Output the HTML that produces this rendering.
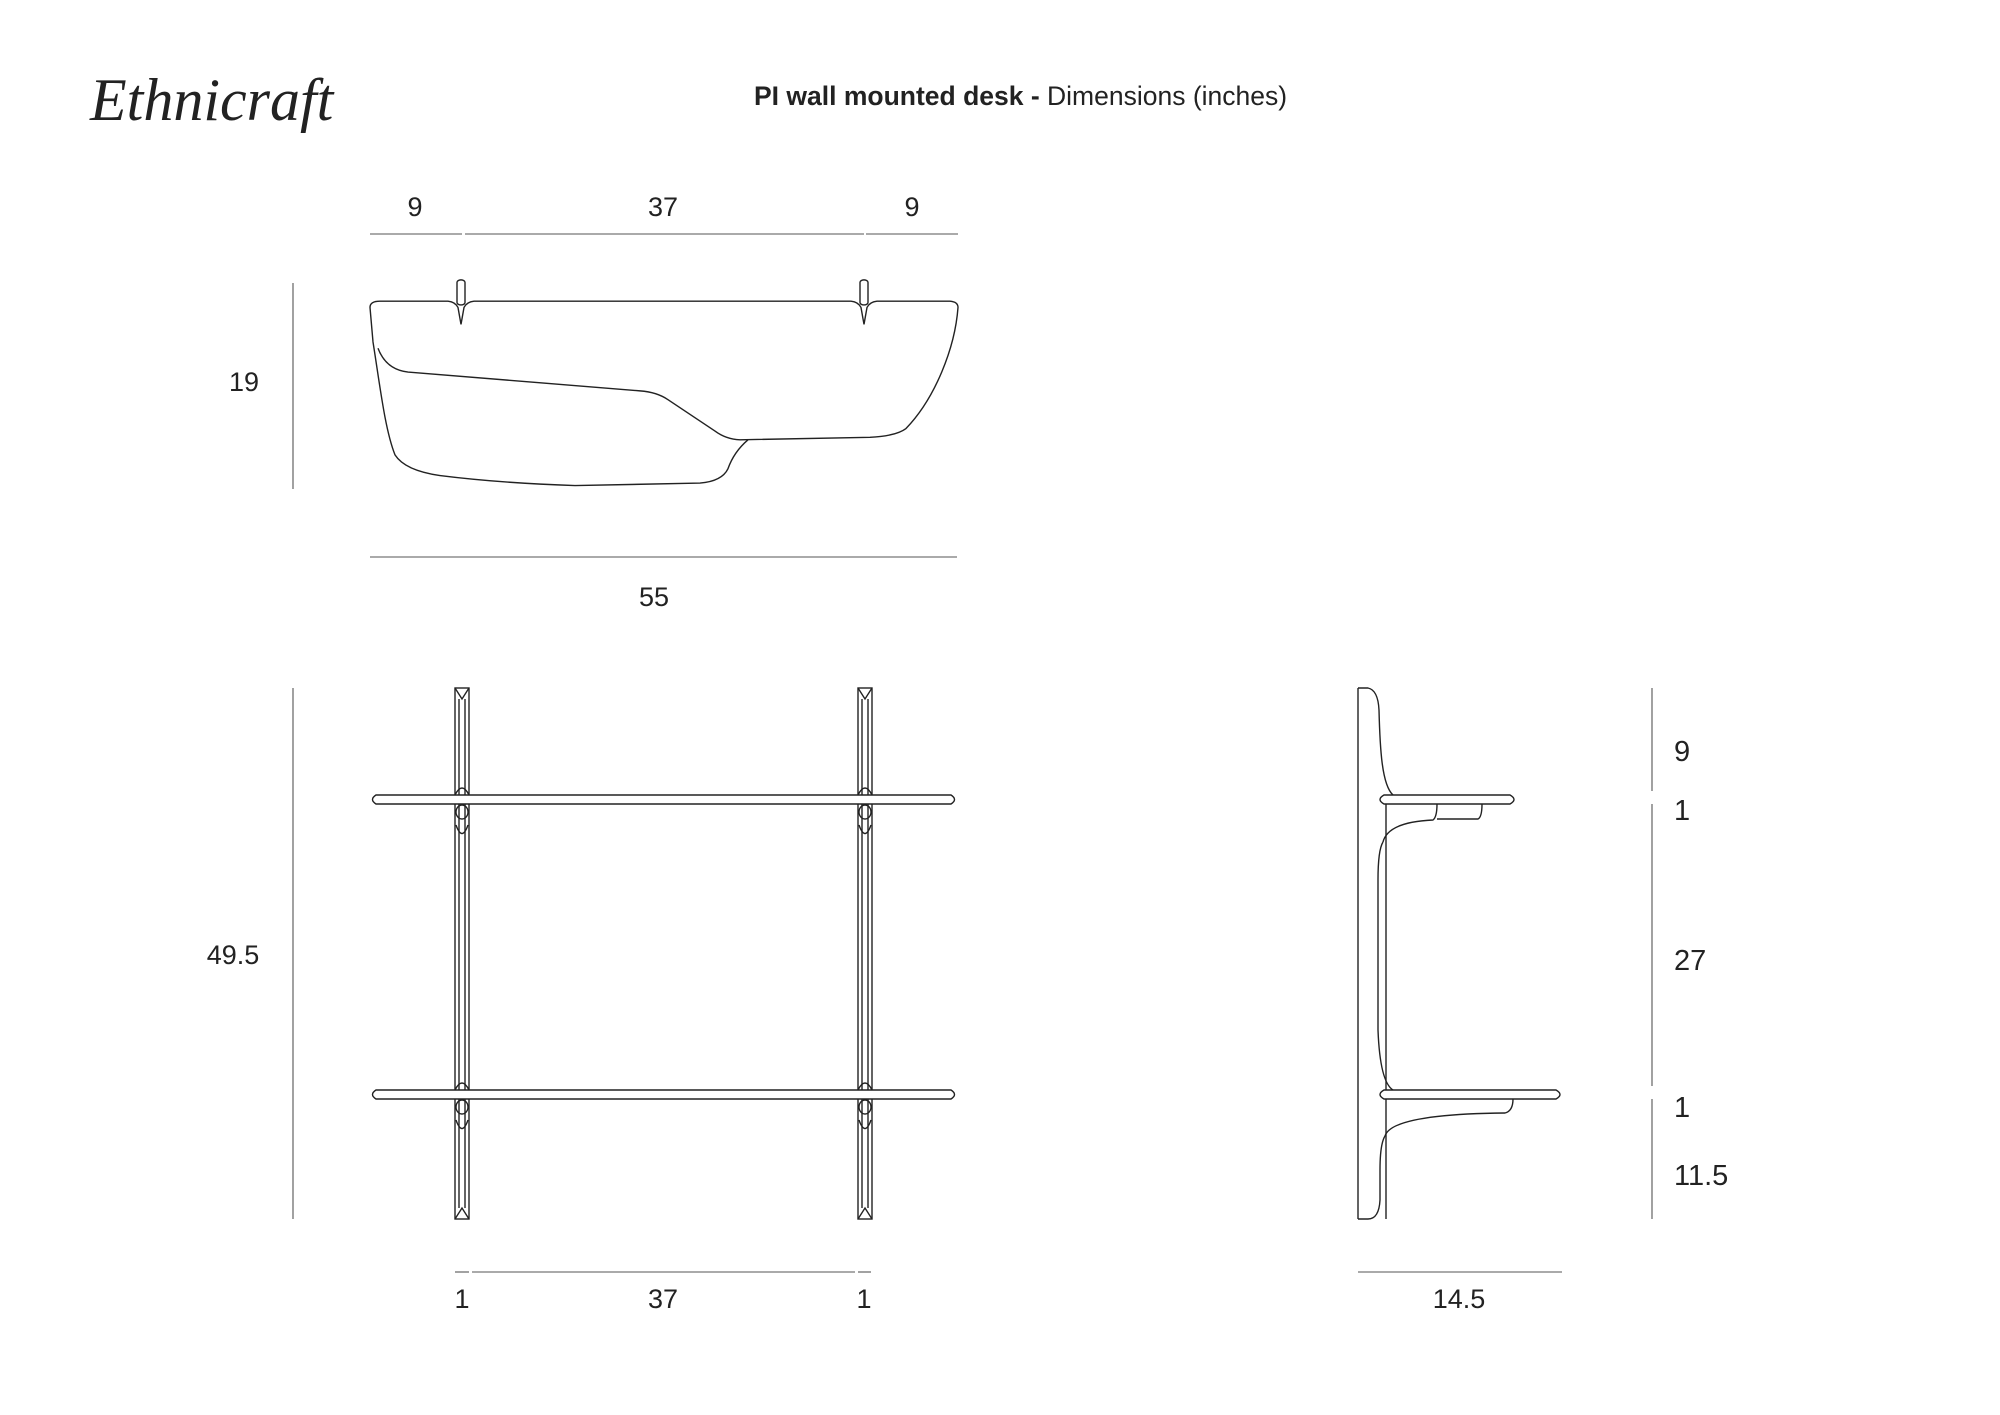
<!DOCTYPE html>
<html><head><meta charset="utf-8"><style>
html,body{margin:0;padding:0;background:#fff}
svg{display:block}
text{font-family:"Liberation Sans",sans-serif;fill:#222}
.n{vector-effect:non-scaling-stroke}
</style></head><body>
<svg width="2000" height="1415" viewBox="0 0 2000 1415" xmlns="http://www.w3.org/2000/svg">
<g fill="none" stroke="#222" stroke-width="1.4">
<!-- top view -->
<g transform="translate(0,-3) scale(1,0.6272)">
<path class="n" d="M370,495 Q370,485 380,485 L448,485 Q455,486 458,495 L461,522 L464,495 Q467,486 474,485 L851,485 Q858,486 861,495 L864,522 L867,495 Q870,486 877,485 L950,485 Q958,486 958,495 C955,560 935,640 906,688 Q896,700 870,702 L740,706"/>
<path class="n" d="M740,706 Q726,705 715,692 L668,642 Q657,630 640,628 L408,598 Q386,594 378,560"/>
<path class="n" d="M370,495 L373,550 C380,620 385,690 395,730 Q405,755 440,763 Q500,775 575,779 L700,775 Q722,772 728,752 Q734,725 748,706"/>
<rect class="n" x="457" y="451" width="8" height="40" rx="4"/>
<rect class="n" x="860" y="451" width="8" height="40" rx="4"/>
</g>
<g stroke="#555" stroke-width="1.1">
<line x1="370" y1="234" x2="462" y2="234"/><line x1="465" y1="234" x2="864" y2="234"/><line x1="866" y1="234" x2="958" y2="234"/>
<line x1="293" y1="283" x2="293" y2="489"/>
<line x1="370" y1="557" x2="957" y2="557"/>
<line x1="293" y1="688" x2="293" y2="1219"/>
<line x1="455" y1="1272" x2="469" y2="1272"/><line x1="472" y1="1272" x2="855" y2="1272"/><line x1="858" y1="1272" x2="871" y2="1272"/>
<line x1="1652" y1="688" x2="1652" y2="791"/><line x1="1652" y1="804" x2="1652" y2="1086"/><line x1="1652" y1="1099" x2="1652" y2="1219"/>
<line x1="1358" y1="1272" x2="1562" y2="1272"/>
</g>
<rect x="455" y="688" width="14" height="531"/>
<rect x="858" y="688" width="14" height="531"/>
<line x1="459" y1="699" x2="459" y2="1208"/><line x1="465" y1="699" x2="465" y2="1208"/>
<line x1="862" y1="699" x2="862" y2="1208"/><line x1="868" y1="699" x2="868" y2="1208"/>
<path d="M455,688 L462,699 L469,688 M455,1219 L462,1208 L469,1219 M858,688 L865,699 L872,688 M858,1219 L865,1208 L872,1219"/>
<path d="M376,795 L951,795 Q958,799.5 951,804 L376,804 Q369,799.5 376,795 Z" fill="#fff"/>
<path d="M376,1090 L951,1090 Q958,1094.5 951,1099 L376,1099 Q369,1094.5 376,1090 Z" fill="#fff"/>
<ellipse cx="462" cy="812" rx="6" ry="7"/><ellipse cx="865" cy="812" rx="6" ry="7"/>
<ellipse cx="462" cy="1107" rx="6" ry="7"/><ellipse cx="865" cy="1107" rx="6" ry="7"/>
<path d="M455,795 Q462,781 469,795 M858,795 Q865,781 872,795 M455,1090 Q462,1076 469,1090 M858,1090 Q865,1076 872,1090"/>
<path d="M456,825 Q462,842 468,825 M859,825 Q865,842 871,825 M456,1120 Q462,1137 468,1120 M859,1120 Q865,1137 871,1120"/>
<path d="M1358,688 L1368,688 Q1378,690 1379,710 C1380,750 1382,785 1393,795"/>
<line x1="1358" y1="688" x2="1358" y2="1219"/>
<path d="M1384,795 L1510,795 Q1518,799.5 1510,804 L1384,804 Q1376,799.5 1384,795 Z"/>
<path d="M1384,1090 L1556,1090 Q1564,1094.5 1556,1099 L1384,1099 Q1376,1094.5 1384,1090 Z"/>
<line x1="1386" y1="804" x2="1386" y2="1090"/>
<line x1="1386" y1="1099" x2="1386" y2="1219"/>
<path d="M1383,842 Q1388,822 1433,820 Q1437,817 1437,804"/>
<path d="M1437,819 L1478,819 Q1482,817 1482,804"/>
<path d="M1383,842 Q1378,850 1378,880 L1378,1030 Q1380,1082 1393,1090"/>
<path d="M1385,1136 Q1392,1114 1505,1113 Q1513,1111 1513,1099"/>
<path d="M1385,1136 Q1380,1144 1380,1170 L1380,1200 Q1379,1219 1368,1219 L1358,1219"/>
</g>
<text x="90" y="120" style="font-family:'Liberation Serif',serif;font-style:italic" font-size="60" fill="#222">Ethnicraft</text>
<text x="754" y="105" font-size="26.5"><tspan font-weight="bold">PI wall mounted desk -</tspan> Dimensions (inches)</text>
<g font-size="27" text-anchor="middle">
<text x="415" y="216">9</text><text x="663" y="216">37</text><text x="912" y="216">9</text>
<text x="244" y="391">19</text>
<text x="654" y="606">55</text>
<text x="233" y="964">49.5</text>
<text x="462" y="1308">1</text><text x="663" y="1308">37</text><text x="864" y="1308">1</text>
<text x="1459" y="1308">14.5</text>
</g>
<g font-size="29">
<text x="1674" y="761">9</text>
<text x="1674" y="820">1</text>
<text x="1674" y="970">27</text>
<text x="1674" y="1117">1</text>
<text x="1674" y="1185">11.5</text>
</g>
</svg>
</body></html>
